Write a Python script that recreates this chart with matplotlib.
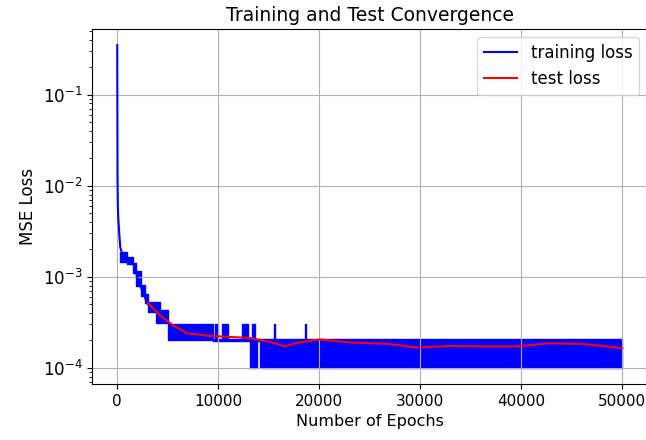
import matplotlib
matplotlib.use('Agg')
import matplotlib.pyplot as plt

# training loss, fast decay part (epoch, mse)
decay_epochs = [0, 30, 60, 100, 200, 300, 600, 1000, 1540, 1830, 2330, 2730, 3020, 3600, 4500, 5000]
decay_loss = [0.35, 1.2e-2, 6e-3, 4.5e-3, 3e-3, 2.1e-3, 1.65e-3, 1.55e-3, 1.45e-3, 1.12e-3, 7.7e-4, 6e-4, 5e-4, 4.6e-4, 3.6e-4, 3.2e-4]

# training loss, oscillating part read as bands (start, end, low, high)
band_start = [300, 950, 1540, 1830, 2330, 2730, 3020, 3820, 5000, 9460, 9660, 10360, 12340, 13330,
              13130, 13820, 14120, 15560, 18630]
band_end = [950, 1540, 1830, 2330, 2730, 3020, 4210, 5000, 9460, 13130, 9960, 10950, 12930, 13630,
            13820, 14120, 50000, 15660, 18730]
band_low = [1.45e-3, 1.38e-3, 1.1e-3, 8e-4, 6.2e-4, 5.2e-4, 4.1e-4, 3.1e-4, 2.0e-4, 1.95e-4, 2e-4, 2e-4,
            2e-4, 2e-4, 1e-4, 1.95e-4, 1e-4, 2e-4, 2e-4]
band_high = [1.85e-3, 1.65e-3, 1.4e-3, 1.15e-3, 8.2e-4, 6.5e-4, 5.3e-4, 4.3e-4, 3.0e-4, 2.1e-4, 3e-4, 3e-4,
             3e-4, 3e-4, 2.05e-4, 2.05e-4, 2.05e-4, 3e-4, 3e-4]

# test loss
test_epochs = [3020, 4210, 5400, 6890, 9000, 13130, 15110, 16600, 18000, 20070, 23040, 27010,
               29680, 32950, 36000, 39590, 42860, 46130, 50000]
test_loss = [5.2e-4, 3.8e-4, 3.0e-4, 2.4e-4, 2.25e-4, 2.13e-4, 1.93e-4, 1.72e-4, 1.9e-4, 2.05e-4,
             1.9e-4, 1.83e-4, 1.67e-4, 1.74e-4, 1.72e-4, 1.72e-4, 1.86e-4, 1.83e-4, 1.65e-4]

fig = plt.figure(figsize=(6.46, 4.40), dpi=100)
ax = fig.add_axes([0.1424, 0.1273, 0.8596, 0.8068])

ax.plot(decay_epochs, decay_loss, 'b', label='training loss')
for s, e, lo, hi in zip(band_start, band_end, band_low, band_high):
    ax.fill_between([s, e], [lo, lo], [hi, hi], color='b', linewidth=1)
ax.plot(test_epochs, test_loss, 'r', label='test loss')

ax.set_yscale('log')
ax.set_xlim(-2500, 52500)
ax.grid(True)
ax.tick_params(axis='x', labelsize=11)
ax.tick_params(axis='y', labelsize=12)
ax.legend(loc='upper right', fontsize=12)
ax.set_title('Training and Test Convergence', fontsize=13.5)
ax.set_xlabel('Number of Epochs', fontsize=11.5)
ax.set_ylabel('MSE Loss', fontsize=12)

fig.savefig('out.png', dpi=100)
